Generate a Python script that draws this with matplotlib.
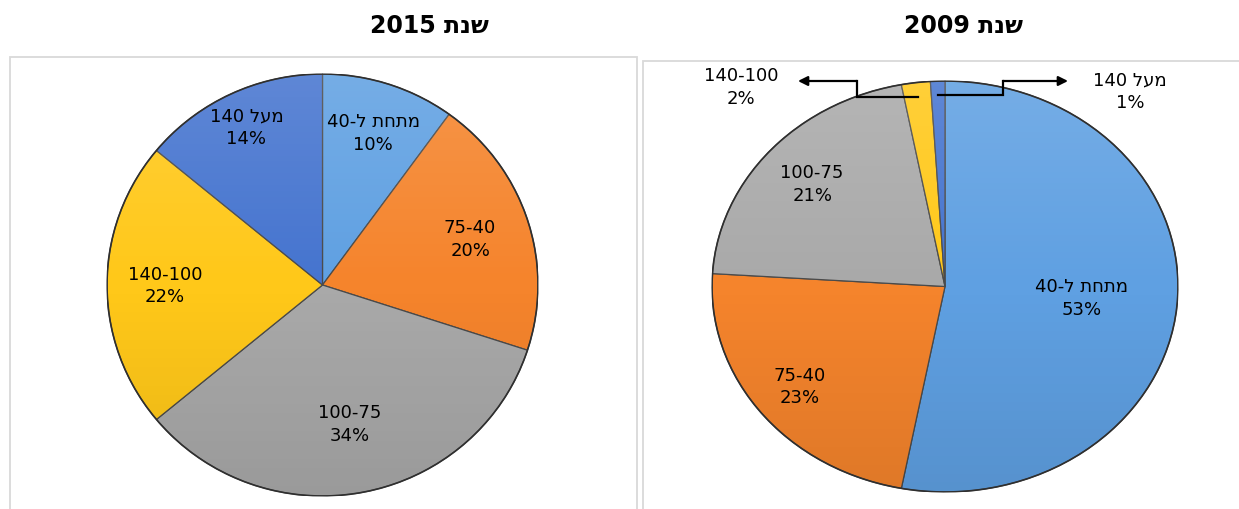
import re
import numpy as np
import matplotlib
matplotlib.use("Agg")
import matplotlib.pyplot as plt
from matplotlib.patches import Rectangle, Ellipse

# data (clockwise from 12 o'clock)
categories = ["מתחת ל-40", "75-40", "100-75", "140-100", "מעל 140"]
share_2015 = [10, 20, 34, 22, 14]
share_2009 = [53, 23, 21, 2, 1]
titles = ["שנת 2015", "שנת 2009"]
colors = ["#5fa0e2", "#f5842c", "#a9a9a9", "#ffc819", "#4574cf"]

W, H = 1239, 510
plt.rcParams['font.family'] = ['DejaVu Sans']


def rtl(s):
    # matplotlib has no bidi: flip hebrew strings, keep numbers readable
    if not any('\u0590' <= c <= '\u05ff' for c in s):
        return s
    r = s[::-1]
    return re.sub(r"\d+", lambda m: m.group(0)[::-1], r)


def box(x0, y0, x1, y1):
    return [x0 / W, 1 - y1 / H, (x1 - x0) / W, (y1 - y0) / H]


fig = plt.figure(figsize=(W / 100, H / 100), dpi=100)

# panel frames
for x0, x1, y0 in [(10, 637, 58), (643, 1245, 62)]:
    fig.add_artist(Rectangle((x0 / W, -0.02), (x1 - x0) / W, 1 - y0 / H + 0.02,
                             transform=fig.transFigure, fill=False,
                             edgecolor="#d9d9d9", linewidth=1.3))

fig.text(429 / W, 1 - 26 / H, rtl(titles[0]), ha="center", va="center",
         fontsize=17, fontweight="bold")
fig.text(963 / W, 1 - 26 / H, rtl(titles[1]), ha="center", va="center",
         fontsize=17, fontweight="bold")


def shade(ax):
    # soft top-light / bottom-dark gradient to hint at the excel bevel look
    t = np.linspace(1, -1, 200)[:, None]
    rgba = np.zeros((200, 2, 4))
    rgba[..., :3] = np.where(t > 0, 1.0, 0.0)[..., None]
    rgba[..., 3] = np.where(t > 0, 0.14 * t, 0.09 * -t)
    im = ax.imshow(rgba, extent=(-1, 1, -1, 1), aspect="auto", zorder=3,
                   interpolation="bilinear")
    clip = Ellipse((0, 0), 2, 2, transform=ax.transData)
    im.set_clip_path(clip)
    ax.add_patch(Ellipse((0, 0), 2, 2, fill=False, edgecolor="#2f2f2f",
                         linewidth=1.2, zorder=4))


def draw_pie(ax, values, label_r):
    wedges, _ = ax.pie(values, colors=colors, startangle=90, counterclock=False,
                       radius=1,
                       wedgeprops=dict(edgecolor="#4a4a4a", linewidth=0.9))
    ax.set_aspect("auto")
    shade(ax)
    ax.set_xlim(-1, 1)
    ax.set_ylim(-1, 1)
    for i, w in enumerate(wedges):
        if label_r[i] is None:
            continue
        mid = np.deg2rad((w.theta1 + w.theta2) / 2)
        r = label_r[i]
        ax.text(r * np.cos(mid), r * np.sin(mid),
                rtl(categories[i]) + "\n" + f"{values[i]}%",
                ha="center", va="center", fontsize=13, linespacing=1.35,
                zorder=5)
    return wedges


ax1 = fig.add_axes(box(107, 75, 538, 497))
draw_pie(ax1, share_2015, [0.76, 0.72, 0.67, 0.73, 0.83])

ax2 = fig.add_axes(box(712, 82, 1178, 493))
w2 = draw_pie(ax2, share_2009, [0.59, 0.79, 0.76, None, None])

# small slices of 2009: elbow arrows to outside labels
callouts = [
    # slice, elbow x, arrow tip x, label x, label y
    (3, -0.378, -0.631, -0.876, 0.973),
    (4, 0.249, 0.528, 0.794, 0.954),
]
arm_y = 1.0
for i, xe, xt, lx, ly in callouts:
    w = w2[i]
    mid = np.deg2rad((w.theta1 + w.theta2) / 2)
    x0, y0 = 0.93 * np.cos(mid), 0.93 * np.sin(mid)
    ax2.plot([x0, xe, xe], [y0, y0, arm_y], color="black", lw=1.6,
             clip_on=False, solid_joinstyle="miter", zorder=6)
    ax2.annotate("", xy=(xt, arm_y), xytext=(xe, arm_y),
                 arrowprops=dict(arrowstyle="-|>", color="black", lw=1.6,
                                 mutation_scale=14, shrinkA=0, shrinkB=0),
                 annotation_clip=False, zorder=6)
    ax2.text(lx, ly, rtl(categories[i]) + "\n" + f"{share_2009[i]}%",
             ha="center", va="center", fontsize=13, linespacing=1.35)

fig.savefig("out.png", dpi=100)
